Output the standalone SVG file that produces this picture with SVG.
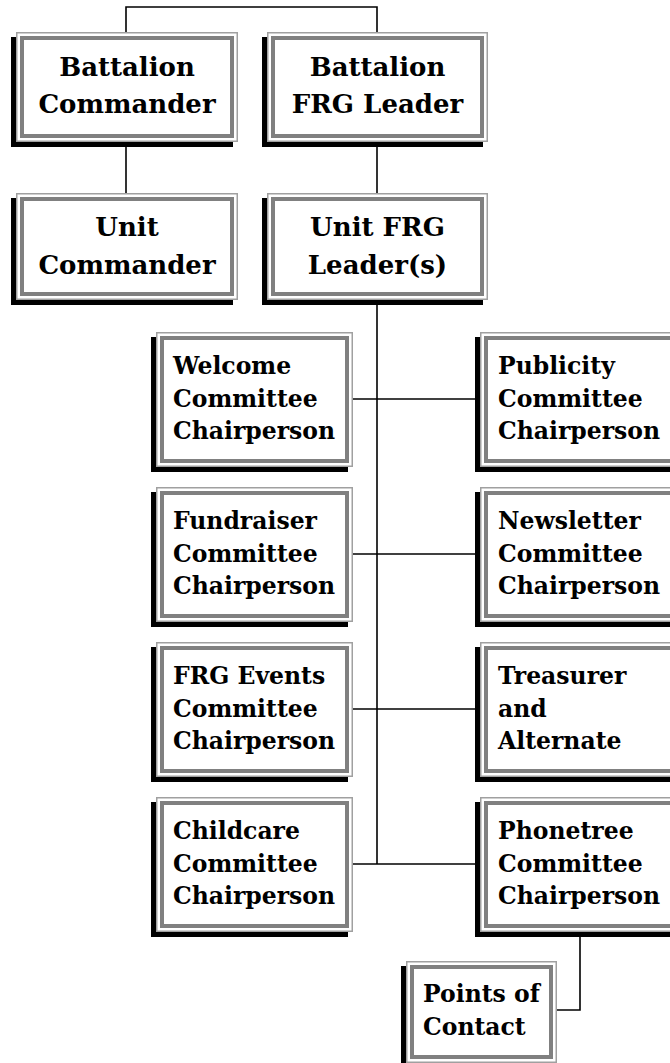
<svg xmlns="http://www.w3.org/2000/svg" width="670" height="1063" viewBox="0 0 670 1063">
<style>
.sh{fill:#000}
.ob{fill:#fff;stroke:#a0a0a0;stroke-width:1.5}
.ib{fill:none;stroke:#808080;stroke-width:4}
.big{font-family:"DejaVu Serif","Liberation Serif",serif;font-weight:bold;font-size:26px;fill:#000;text-anchor:middle}
.sm{font-family:"DejaVu Serif","Liberation Serif",serif;font-weight:bold;font-size:23.5px;fill:#000}
.ln{fill:none;stroke:#000;stroke-width:1.6}
</style>
<rect width="670" height="1063" fill="#fff"/>
<g id="connectors">
<polyline class="ln" points="126,32 126,7 377,7 377,32"/>
<line class="ln" x1="126" y1="142" x2="126" y2="193"/>
<line class="ln" x1="377" y1="142" x2="377" y2="193"/>
<line class="ln" x1="377" y1="300" x2="377" y2="864"/>
<line class="ln" x1="353" y1="399" x2="480" y2="399"/>
<line class="ln" x1="353" y1="554" x2="480" y2="554"/>
<line class="ln" x1="353" y1="709" x2="480" y2="709"/>
<line class="ln" x1="353" y1="864" x2="480" y2="864"/>
<polyline class="ln" points="580,935 580,1010 557,1010"/>
</g>
<g id="battalion-commander">
<rect class="sh" x="11" y="37" width="222" height="110"/>
<rect class="ob" x="16.75" y="32.75" width="220.5" height="108.5"/>
<rect class="ib" x="22" y="38" width="210" height="98"/>
<text class="big" x="127" y="76">Battalion</text>
<text class="big" x="127" y="113">Commander</text>
</g>
<g id="battalion-frg-leader">
<rect class="sh" x="262" y="37" width="221" height="110"/>
<rect class="ob" x="267.75" y="32.75" width="219.5" height="108.5"/>
<rect class="ib" x="273" y="38" width="209" height="98"/>
<text class="big" x="377.5" y="76">Battalion</text>
<text class="big" x="377.5" y="113">FRG Leader</text>
</g>
<g id="unit-commander">
<rect class="sh" x="11" y="198" width="222" height="107"/>
<rect class="ob" x="16.75" y="193.75" width="220.5" height="105.5"/>
<rect class="ib" x="22" y="199" width="210" height="95"/>
<text class="big" x="127" y="236">Unit</text>
<text class="big" x="127" y="274">Commander</text>
</g>
<g id="unit-frg-leader">
<rect class="sh" x="262" y="198" width="221" height="107"/>
<rect class="ob" x="267.75" y="193.75" width="219.5" height="105.5"/>
<rect class="ib" x="273" y="199" width="209" height="95"/>
<text class="big" x="377.5" y="236">Unit FRG</text>
<text class="big" x="377.5" y="274">Leader(s)</text>
</g>
<g id="welcome">
<rect class="sh" x="151" y="337" width="197" height="135"/>
<rect class="ob" x="156.75" y="332.75" width="195.5" height="133.5"/>
<rect class="ib" x="162" y="338" width="185" height="123"/>
<text class="sm" x="173" y="374">Welcome</text>
<text class="sm" x="173" y="407">Committee</text>
<text class="sm" x="173" y="439">Chairperson</text>
</g>
<g id="publicity">
<rect class="sh" x="475" y="337" width="205" height="135"/>
<rect class="ob" x="480.75" y="332.75" width="203.5" height="133.5"/>
<rect class="ib" x="486" y="338" width="193" height="123"/>
<text class="sm" x="498" y="374">Publicity</text>
<text class="sm" x="498" y="407">Committee</text>
<text class="sm" x="498" y="439">Chairperson</text>
</g>
<g id="fundraiser">
<rect class="sh" x="151" y="492" width="197" height="135"/>
<rect class="ob" x="156.75" y="487.75" width="195.5" height="133.5"/>
<rect class="ib" x="162" y="493" width="185" height="123"/>
<text class="sm" x="173" y="529">Fundraiser</text>
<text class="sm" x="173" y="562">Committee</text>
<text class="sm" x="173" y="594">Chairperson</text>
</g>
<g id="newsletter">
<rect class="sh" x="475" y="492" width="205" height="135"/>
<rect class="ob" x="480.75" y="487.75" width="203.5" height="133.5"/>
<rect class="ib" x="486" y="493" width="193" height="123"/>
<text class="sm" x="498" y="529">Newsletter</text>
<text class="sm" x="498" y="562">Committee</text>
<text class="sm" x="498" y="594">Chairperson</text>
</g>
<g id="frg-events">
<rect class="sh" x="151" y="647" width="197" height="135"/>
<rect class="ob" x="156.75" y="642.75" width="195.5" height="133.5"/>
<rect class="ib" x="162" y="648" width="185" height="123"/>
<text class="sm" x="173" y="684">FRG Events</text>
<text class="sm" x="173" y="717">Committee</text>
<text class="sm" x="173" y="749">Chairperson</text>
</g>
<g id="treasurer">
<rect class="sh" x="475" y="647" width="205" height="135"/>
<rect class="ob" x="480.75" y="642.75" width="203.5" height="133.5"/>
<rect class="ib" x="486" y="648" width="193" height="123"/>
<text class="sm" x="498" y="684">Treasurer</text>
<text class="sm" x="498" y="717">and</text>
<text class="sm" x="498" y="749">Alternate</text>
</g>
<g id="childcare">
<rect class="sh" x="151" y="802" width="197" height="135"/>
<rect class="ob" x="156.75" y="797.75" width="195.5" height="133.5"/>
<rect class="ib" x="162" y="803" width="185" height="123"/>
<text class="sm" x="173" y="839">Childcare</text>
<text class="sm" x="173" y="872">Committee</text>
<text class="sm" x="173" y="904">Chairperson</text>
</g>
<g id="phonetree">
<rect class="sh" x="475" y="802" width="205" height="135"/>
<rect class="ob" x="480.75" y="797.75" width="203.5" height="133.5"/>
<rect class="ib" x="486" y="803" width="193" height="123"/>
<text class="sm" x="498" y="839">Phonetree</text>
<text class="sm" x="498" y="872">Committee</text>
<text class="sm" x="498" y="904">Chairperson</text>
</g>
<g id="points-of-contact">
<rect class="sh" x="401" y="966" width="151" height="102"/>
<rect class="ob" x="406.75" y="961.75" width="149.5" height="100.5"/>
<rect class="ib" x="412" y="967" width="139" height="90"/>
<text class="sm" x="423" y="1002">Points of</text>
<text class="sm" x="423" y="1035">Contact</text>
</g>
</svg>
